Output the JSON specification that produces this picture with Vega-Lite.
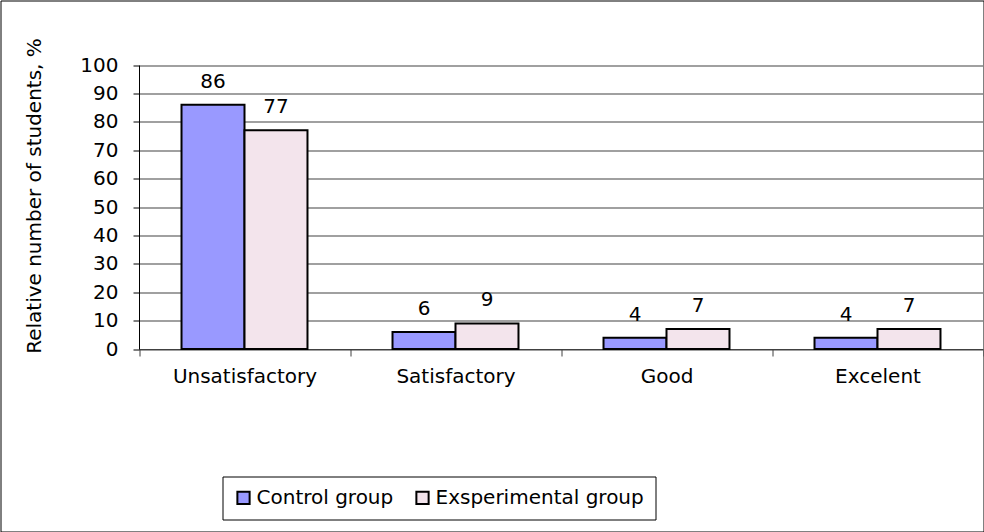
{
  "$schema": "https://vega.github.io/schema/vega-lite/v6.json",
  "width": 983,
  "height": 531,
  "padding": 0.5,
  "autosize": "none",
  "background": "white",
  "config": {
    "view": {"stroke": "black", "strokeWidth": 1},
    "font": "DejaVu Sans",
    "axis": {"labelColor": "black", "titleColor": "black", "labelFont": "DejaVu Sans", "titleFont": "DejaVu Sans", "titleFontWeight": "normal"},
    "legend": {"labelFont": "DejaVu Sans", "labelColor": "black"}
  },
  "data": {
    "values": [
      {"grade": "Unsatisfactory", "group": "Control group", "value": 86},
      {"grade": "Unsatisfactory", "group": "Exsperimental group", "value": 77},
      {"grade": "Satisfactory", "group": "Control group", "value": 6},
      {"grade": "Satisfactory", "group": "Exsperimental group", "value": 9},
      {"grade": "Good", "group": "Control group", "value": 4},
      {"grade": "Good", "group": "Exsperimental group", "value": 7},
      {"grade": "Excelent", "group": "Control group", "value": 4},
      {"grade": "Excelent", "group": "Exsperimental group", "value": 7}
    ]
  },
  "encoding": {
    "x": {
      "field": "grade",
      "type": "nominal",
      "sort": ["Unsatisfactory", "Satisfactory", "Good", "Excelent"],
      "scale": {"range": [138.5, 982.5], "paddingInner": 0, "paddingOuter": 0},
      "axis": {
        "title": null,
        "labelAngle": 0,
        "offset": -182.5,
        "domainColor": "#404040",
        "domainWidth": 1,
        "tickColor": "#404040",
        "tickBand": "extent",
        "tickSize": 7,
        "labelFontSize": 20,
        "labelPadding": 10
      }
    },
    "xOffset": {
      "field": "group",
      "type": "nominal",
      "sort": ["Control group", "Exsperimental group"],
      "scale": {"paddingInner": 0, "paddingOuter": 0.675}
    },
    "y": {
      "field": "value",
      "type": "quantitative",
      "scale": {"domain": [0, 100], "range": [348.5, 64.5], "nice": false},
      "axis": {
        "title": "Relative number of students, %",
        "titleFontSize": 20,
        "titleAngle": -90,
        "titleX": -105,
        "titleY": 195,
        "titleAlign": "center",
        "titleBaseline": "middle",
        "offset": -138.5,
        "values": [0, 10, 20, 30, 40, 50, 60, 70, 80, 90, 100],
        "domainColor": "black",
        "tickColor": "black",
        "tickSize": 6,
        "labelFontSize": 20,
        "labelPadding": 15,
        "grid": true,
        "gridColor": "#808080",
        "gridWidth": 1.5
      }
    }
  },
  "layer": [
    {
      "mark": {"type": "bar", "stroke": "black", "strokeWidth": 2},
      "encoding": {
        "color": {
          "field": "group",
          "type": "nominal",
          "sort": ["Control group", "Exsperimental group"],
          "scale": {"range": ["#9999FF", "#F3E4EC"]},
          "legend": {
            "orient": "none",
            "legendX": 222,
            "legendY": 476,
            "direction": "horizontal",
            "title": null,
            "strokeColor": "black",
            "padding": 11,
            "symbolType": "square",
            "symbolSize": 150,
            "symbolStrokeColor": "black",
            "symbolStrokeWidth": 2,
            "symbolOpacity": 1,
            "labelFontSize": 20,
            "labelLimit": 0,
            "columnPadding": 18,
            "labelOffset": 3
          }
        }
      }
    },
    {
      "mark": {"type": "text", "baseline": "alphabetic", "dy": -17, "fontSize": 20, "color": "black"},
      "encoding": {"text": {"field": "value", "type": "quantitative"}}
    }
  ]
}
